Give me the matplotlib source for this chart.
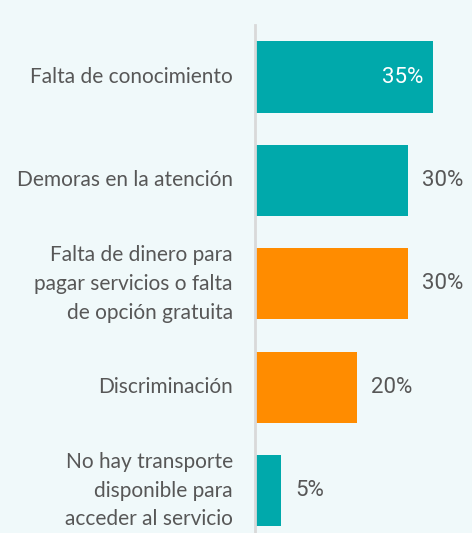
import matplotlib.pyplot as plt

categories = [
    "Falta de conocimiento",
    "Demoras en la atención",
    "Falta de dinero para\npagar servicios o falta\nde opción gratuita",
    "Discriminación",
    "No hay transporte\ndisponible para\nacceder al servicio",
]
values = [35, 30, 30, 20, 5]
colors = ["#00a9ab", "#00a9ab", "#ff8c00", "#ff8c00", "#00a9ab"]

bg = "#f0f9fa"
text_col = "#575757"

fig = plt.figure(figsize=(4.72, 5.33), dpi=100, facecolor=bg)
ax = fig.add_axes([255 / 472, 0, 217 / 472, 508 / 533])
ax.set_facecolor(bg)

ypos = list(range(len(values)))
ax.barh(ypos, values, height=0.69, color=colors, zorder=2)
ax.set_xlim(-0.2, 42.7)
ax.set_ylim(4.41, -0.503)

for s in ["top", "right", "bottom"]:
    ax.spines[s].set_visible(False)
ax.spines["left"].set_color("#d9d9d9")
ax.spines["left"].set_linewidth(2)
ax.set_xticks([])
ax.set_yticks([])

# category labels, right aligned against the axis
for y, label in zip(ypos, categories):
    ax.text(-4.6, y, label, ha="right", va="center", fontsize=15,
            family="Lato", color=text_col, linespacing=1.55)

# value labels: inside the longest bar, outside the rest
for y, v in zip(ypos, values):
    if v == max(values):
        ax.text(v - 2, y, f"{v}%", ha="right", va="center", fontsize=16,
                family="Roboto", color="white")
    else:
        ax.text(v + 2.8, y, f"{v}%", ha="left", va="center", fontsize=16,
                family="Roboto", color=text_col)

fig.savefig("out.png", dpi=100, facecolor=bg)
